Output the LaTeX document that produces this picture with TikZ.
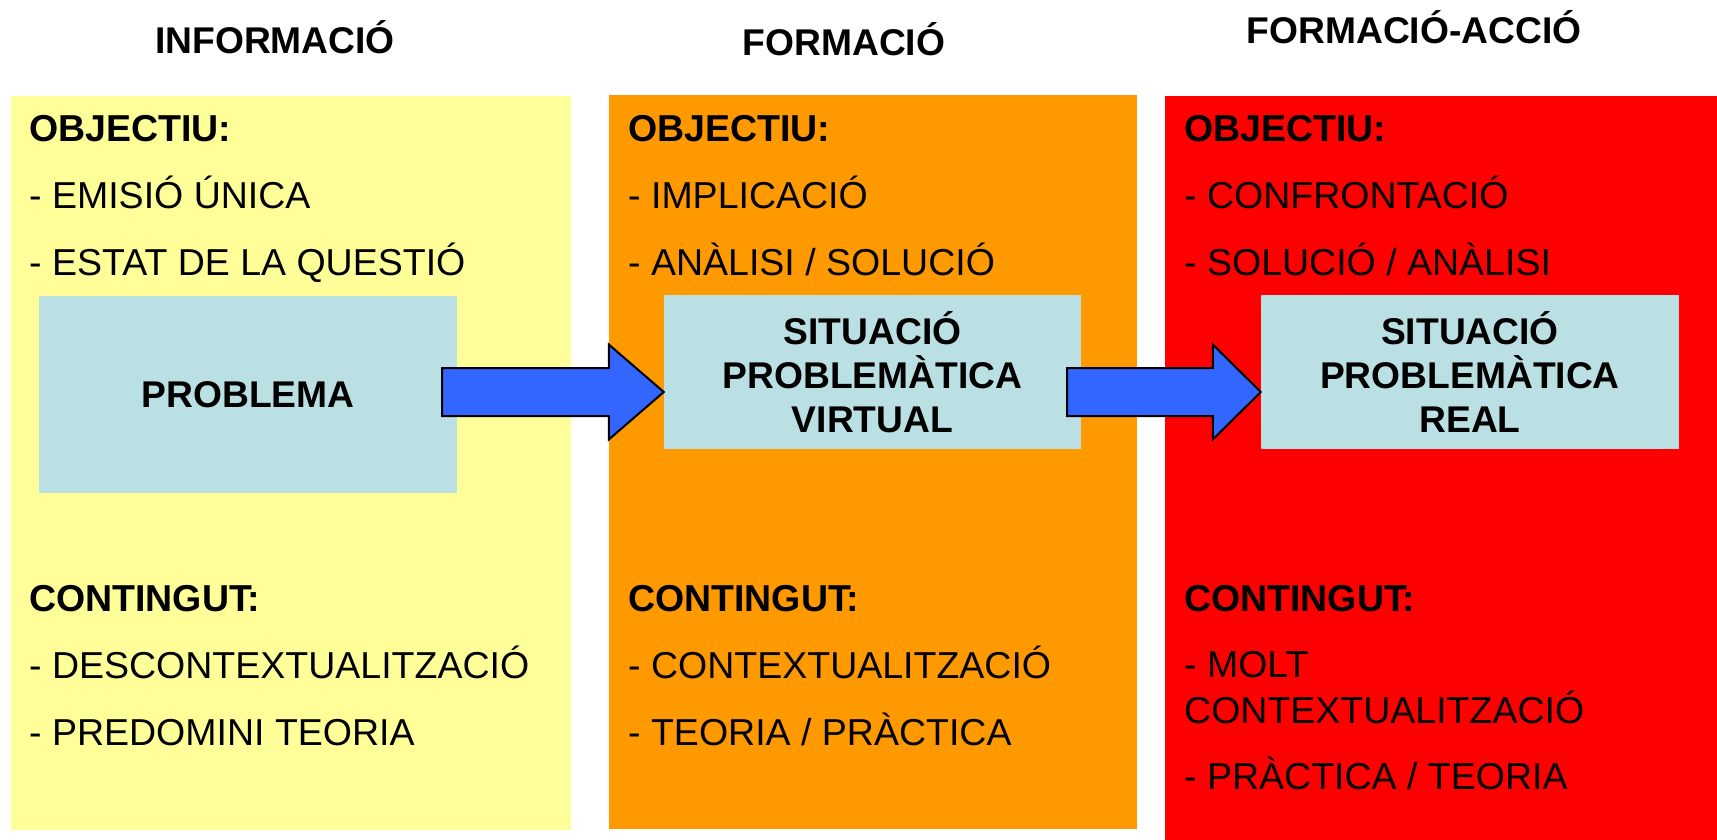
\documentclass[tikz,border=0pt]{standalone}
\usepackage{fontspec}
\setmainfont{Liberation Sans}
\usetikzlibrary{calc}
\definecolor{ylw}{HTML}{FFFF99}
\definecolor{org}{HTML}{FF9900}
\definecolor{rd}{HTML}{FF0000}
\definecolor{cyanbox}{HTML}{BBE0E3}
\definecolor{arrblue}{HTML}{3366FF}
\begin{document}
\begin{tikzpicture}[x=1pt,y=-1pt,
  txt/.style={anchor=base west,inner sep=0,font=\fontsize{37.5}{44}\selectfont},
  hd/.style={anchor=base west,inner sep=0,font=\fontsize{37.5}{44}\selectfont\bfseries},
  ttl/.style={anchor=base,inner sep=0,font=\fontsize{37.2}{44}\selectfont\bfseries},
  col/.style={draw=none,inner sep=0,anchor=north west},
  cbox/.style={fill=cyanbox,inner sep=0,align=center,font=\fontsize{37.2}{44}\selectfont\bfseries},
  blockarrow/.style={fill=arrblue,draw=black,line width=2pt,line join=miter}]
\useasboundingbox (0,0) rectangle (1717,840);
\fill[white] (0,0) rectangle (1717,840);
% titles
\node[ttl] (t1) at (275,54) {INFORMACIÓ};
\node[ttl] (t2) at (844,56) {FORMACIÓ};
\node[ttl] (t3) at (1414,44) {FORMACIÓ-ACCIÓ};
% columns
\node[col,fill=ylw,minimum width=560,minimum height=734] (c1) at (11,96) {};
\node[col,fill=org,minimum width=528,minimum height=734] (c2) at (609,95) {};
\node[col,fill=rd,minimum width=552,minimum height=744] (c3) at (1165,96) {};
% column 1 text
\node[hd]  (o1) at (29,142) {OBJECTIU:};
\node[txt] (o1a) at (29,208) {- EMISIÓ ÚNICA};
\node[txt] (o1b) at (29,275) {- ESTAT DE LA QUESTIÓ};
\node[hd]  (k1) at (29,611) {CONTINGUT:};
\node[txt] (k1a) at (29,678) {- DESCONTEXTUALITZACIÓ};
\node[txt] (k1b) at (29,745) {- PREDOMINI TEORIA};
% column 2 text
\node[hd]  (o2) at (628,142) {OBJECTIU:};
\node[txt] (o2a) at (628,208) {- IMPLICACIÓ};
\node[txt] (o2b) at (628,275) {- ANÀLISI / SOLUCIÓ};
\node[hd]  (k2) at (628,611) {CONTINGUT:};
\node[txt] (k2a) at (628,678) {- CONTEXTUALITZACIÓ};
\node[txt] (k2b) at (628,745) {- TEORIA / PRÀCTICA};
% column 3 text
\node[hd]  (o3) at (1184,142) {OBJECTIU:};
\node[txt] (o3a) at (1184,208) {- CONFRONTACIÓ};
\node[txt] (o3b) at (1184,275) {- SOLUCIÓ / ANÀLISI};
\node[hd]  (k3) at (1184,611) {CONTINGUT:};
\node[txt] (k3a) at (1184,677) {- MOLT};
\node[txt] (k3b) at (1184,723) {CONTEXTUALITZACIÓ};
\node[txt] (k3c) at (1184,789) {- PRÀCTICA / TEORIA};
% boxes
\node[cbox,minimum width=418,minimum height=197] (prob) at (248,394.5) {PROBLEMA};
\node[cbox,minimum width=417,minimum height=154] (virt) at (872.5,372) {SITUACIÓ\\PROBLEMÀTICA\\VIRTUAL};
\node[cbox,minimum width=418,minimum height=154] (real) at (1470,372) {SITUACIÓ\\PROBLEMÀTICA\\REAL};
% arrows
\coordinate (a1s) at (442,392);
\coordinate (a1t) at (virt.west |- a1s);
\draw[blockarrow] ($(a1s)+(0,-24)$) -- ($(a1t)+(-55,-24)$) -- ($(a1t)+(-55,-47.5)$) -- (a1t)
  -- ($(a1t)+(-55,47.5)$) -- ($(a1t)+(-55,24)$) -- ($(a1s)+(0,24)$) -- cycle;
\coordinate (a2s) at (1067,392);
\coordinate (a2t) at (real.west |- a2s);
\draw[blockarrow] ($(a2s)+(0,-24)$) -- ($(a2t)+(-48,-24)$) -- ($(a2t)+(-48,-47.5)$) -- (a2t)
  -- ($(a2t)+(-48,47.5)$) -- ($(a2t)+(-48,24)$) -- ($(a2s)+(0,24)$) -- cycle;
\end{tikzpicture}
\end{document}
